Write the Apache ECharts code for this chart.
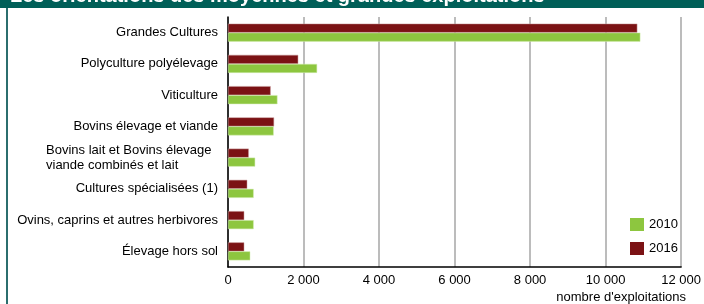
<!DOCTYPE html>
<html lang="fr">
<head>
    <meta charset="UTF-8">
    <title>Orientations</title>
    <script src="https://cdn.jsdelivr.net/npm/echarts@6/dist/echarts.min.js"></script>
    <style>
        html, body { margin: 0; padding: 0; background: #fff; }
        #main { width: 704px; height: 304px; }
    </style>
</head>
<body>
    <div id="main"></div>
    <script>
        // données
        const categories = [
            "Grandes Cultures",
            "Polyculture polyélevage",
            "Viticulture",
            "Bovins élevage et viande",
            "Bovins lait et Bovins élevage \nviande combinés et lait",
            "Cultures spécialisées (1)",
            "Ovins, caprins et autres herbivores",
            "Élevage hors sol"
        ];
        const values2010 = [10920, 2360, 1310, 1210, 720, 680, 680, 590];
        const values2016 = [10840, 1860, 1130, 1220, 550, 510, 430, 430];
        const xTicks = { min: 0, max: 12000, step: 2000 };

        const chart = echarts.init(document.getElementById('main'));

        const fmt = v => String(v).replace(/\B(?=(\d{3})+(?!\d))/g, ' ');

        const option = {
            animation: false,
            textStyle: { fontFamily: 'Liberation Sans, Arial, sans-serif' },
            legend: {
                data: ['2010', '2016'],
                orient: 'vertical',
                left: 625,
                top: 213,
                itemWidth: 14,
                itemHeight: 13,
                itemGap: 11,
                icon: 'rect',
                itemStyle: { borderWidth: 0 },
                textStyle: { fontSize: 13, color: '#000' }
            },
            grid: { left: 228, right: 21, top: 17, bottom: 37, containLabel: false },
            xAxis: {
                type: 'value',
                min: xTicks.min,
                max: xTicks.max,
                interval: xTicks.step,
                axisLine: { show: true, lineStyle: { color: '#000', width: 1.5 } },
                axisTick: { show: false },
                splitLine: { show: true, lineStyle: { color: '#a6a6a6', width: 1.5 } },
                axisLabel: { formatter: fmt, fontSize: 13, color: '#000', margin: 7 }
            },
            yAxis: {
                type: 'category',
                inverse: true,
                data: categories,
                axisLine: { show: true, lineStyle: { color: '#000', width: 1.5 } },
                axisTick: { show: false },
                axisLabel: {
                    fontSize: 13,
                    color: '#000',
                    margin: 10,
                    lineHeight: 15,
                    formatter: v => {
                        if (v.indexOf('\n') < 0) return v;
                        return v.split('\n').map(s => '{m|' + s + '}').join('\n');
                    },
                    rich: { m: { width: 172, align: 'left', fontSize: 13, lineHeight: 15, color: '#000' } }
                }
            },
            series: [
                {
                    name: '2016',
                    type: 'bar',
                    data: values2016,
                    barWidth: 9,
                    barGap: '0%',
                    itemStyle: { color: '#7b1214', borderColor: '#c99a9a', borderWidth: 0.5 }
                },
                {
                    name: '2010',
                    type: 'bar',
                    data: values2010,
                    barWidth: 9,
                    barGap: '0%',
                    itemStyle: { color: '#8dc63f', borderColor: '#d3ecb3', borderWidth: 0.5 }
                }
            ],
            graphic: [
                { type: 'rect', shape: { x: 0, y: 0, width: 704, height: 8 }, style: { fill: '#005f58' }, silent: true },
                { type: 'rect', shape: { x: 6, y: 8, width: 2, height: 296 }, style: { fill: '#2b6e6e' }, silent: true },
                {
                    type: 'text', left: 10, top: -14, silent: true,
                    style: { text: 'Les orientations des moyennes et grandes exploitations', fill: '#fff', font: 'bold 20px Liberation Sans, Arial, sans-serif' }
                },
                {
                    type: 'text', right: 18, top: 291, silent: true,
                    style: { text: "nombre d'exploitations", fill: '#000', font: '13px Liberation Sans, Arial, sans-serif' }
                }
            ]
        };

        chart.setOption(option);
    </script>
</body>
</html>
